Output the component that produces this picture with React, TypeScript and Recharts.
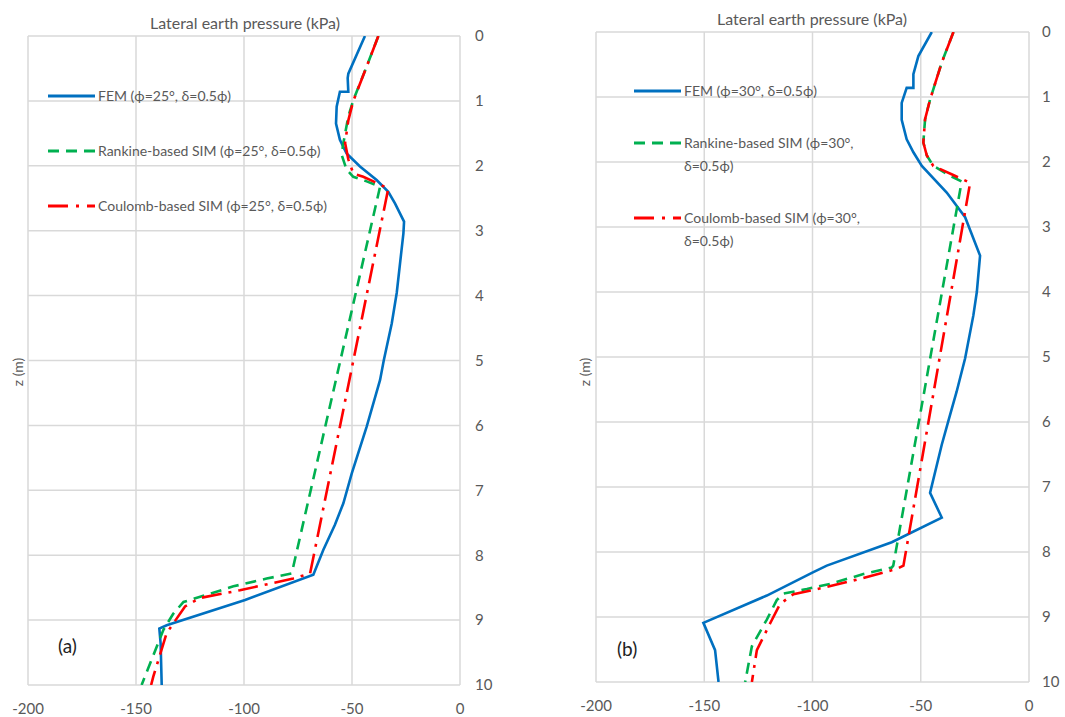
import React from 'react';
import { LineChart, Line, XAxis, YAxis, CartesianGrid, Legend } from 'recharts';

const FONT = 'Lato, "Noto Sans", sans-serif';
const TEXT = '#595959';
const GRID = '#d9d9d9';
const BLUE = '#0070c0';
const GREEN = '#00b050';
const RED = '#ff0000';

const P_TICKS = [-200, -150, -100, -50, 0];
const Z_TICKS = [0, 1, 2, 3, 4, 5, 6, 7, 8, 9, 10];

// panel (a), phi = 25
const FEM_A_Z = [0, 0.58, 0.65, 0.86, 0.86, 1.09, 1.35, 1.6, 1.81, 2.01, 2.22, 2.4, 2.58, 2.86, 3.04, 3.96, 4.43, 5.0, 5.3, 6.02, 6.74, 7.2, 7.53, 7.92, 8.3, 8.69, 9.08, 9.13, 9.36, 10];
const FEM_A_P = [-44, -51.7, -52, -51.7, -55.6, -57.1, -57.4, -55.6, -52.5, -46.3, -38.6, -33.2, -30.1, -25.9, -26.2, -29.3, -31.6, -35.3, -37, -43.2, -50.1, -54, -57.9, -63.3, -67.9, -99.5, -135.8, -139.2, -138.6, -138.1];
const RANK_A_Z = [0, 0.47, 0.99, 1.24, 1.65, 1.83, 2.06, 2.17, 2.24, 2.32, 8.28, 8.36, 8.48, 8.69, 8.72, 8.9, 9.15, 10];
const RANK_A_P = [-37.8, -43.2, -49.4, -51.7, -54, -54.8, -52.5, -49.4, -43.2, -37, -77.9, -89.5, -104.9, -125, -128, -132.7, -137.3, -147.4];
const COUL_A_Z = [0, 0.47, 1.0, 1.3, 1.65, 1.9, 2.12, 2.17, 2.24, 2.35, 8.28, 8.36, 8.54, 8.66, 8.79, 9.05, 9.2, 9.87, 10];
const COUL_A_P = [-37.8, -43.2, -49.4, -51.7, -53.2, -51.7, -49.4, -44.8, -40.1, -33.2, -69.4, -77.2, -101.9, -120.4, -127.3, -132.7, -135.8, -142, -143];

// panel (b), phi = 30
const FEM_B_Z = [0, 0.37, 0.65, 0.86, 0.86, 1.09, 1.35, 1.65, 1.85, 2.06, 2.47, 2.85, 3.44, 4.0, 4.36, 5.02, 5.53, 5.99, 6.35, 7.09, 7.47, 7.85, 8.21, 8.31, 8.67, 9.09, 9.51, 10];
const FEM_B_P = [-44.9, -51.1, -53.4, -53.4, -56.5, -58.8, -58.8, -56.5, -53.4, -49.5, -38, -29.5, -22.6, -24.1, -25.7, -29.5, -33.4, -37.3, -40.3, -45.7, -40.3, -63.4, -93.4, -99.6, -121.1, -150.4, -145, -143.4];
const RANK_B_Z = [0, 0.47, 1.04, 1.34, 1.7, 1.9, 2.06, 2.21, 2.3, 8.21, 8.24, 8.34, 8.49, 8.57, 8.64, 8.74, 9.04, 9.45, 10];
const RANK_B_P = [-34.9, -40.3, -45.7, -48, -48.8, -47.2, -44.2, -36.5, -31.1, -62.7, -63.4, -76.5, -91.9, -102.6, -113.4, -116.5, -121.1, -128, -131.1];
const COUL_B_Z = [0, 0.47, 1.04, 1.34, 1.7, 1.9, 2.06, 2.2, 2.32, 8.21, 8.26, 8.4, 8.55, 8.65, 8.8, 9.1, 9.51, 10];
const COUL_B_P = [-34.9, -40.3, -45.7, -48, -48.8, -47.2, -44.2, -35, -27.2, -58, -61.1, -76.5, -95, -108.8, -115, -119.6, -125.7, -128];

interface Pt { z: number; p: number }
interface SeriesDef { name: string; color: string; dash?: string; legendDash?: string; data: Pt[] }

const toPoints = (z: number[], p: number[]): Pt[] => z.map((d, i) => ({ z: d, p: p[i] }));

const makeSeries = (phi: number, fem: Pt[], rank: Pt[], coul: Pt[]): SeriesDef[] => [
  { name: `FEM (\u03d5=${phi}\u00b0, \u03b4=0.5\u03d5)`, color: BLUE, data: fem },
  { name: `Rankine-based SIM (\u03d5=${phi}\u00b0, \u03b4=0.5\u03d5)`, color: GREEN, dash: '11 7', legendDash: '11 7', data: rank },
  { name: `Coulomb-based SIM (\u03d5=${phi}\u00b0, \u03b4=0.5\u03d5)`, color: RED, dash: '20 7 3 7', legendDash: '20 8 3 8', data: coul },
];

const SERIES_A = makeSeries(25, toPoints(FEM_A_Z, FEM_A_P), toPoints(RANK_A_Z, RANK_A_P), toPoints(COUL_A_Z, COUL_A_P));
const SERIES_B = makeSeries(30, toPoints(FEM_B_Z, FEM_B_P), toPoints(RANK_B_Z, RANK_B_P), toPoints(COUL_B_Z, COUL_B_P));

const TICK_STYLE = { fontSize: 15, fill: TEXT, fontFamily: FONT };

interface PanelProps {
  series: SeriesDef[];
  left: number;
  width: number;
  margin: { top: number; right: number; bottom: number; left: number };
  yTickMargin: number;
  legendLeft: number;
  legendTop: number;
  legendGap: number;
  textWidth: number;
}

function Panel({ series, left, width, margin, yTickMargin, legendLeft, legendTop, legendGap, textWidth }: PanelProps) {
  const renderLegend = () => (
    <div style={{ fontFamily: FONT, fontSize: 14, color: TEXT, lineHeight: '23px' }}>
      {series.map((s, i) => (
        <div key={s.name} style={{ display: 'flex', alignItems: 'flex-start', marginTop: i === 0 ? 0 : legendGap }}>
          <svg width={47} height={23} style={{ flex: 'none', marginRight: 3 }}>
            <line x1={0} x2={47} y1={12} y2={12} stroke={s.color} strokeWidth={3} strokeDasharray={s.legendDash} />
          </svg>
          <span style={{ width: textWidth }}>{s.name}</span>
        </div>
      ))}
    </div>
  );

  return (
    <div style={{ position: 'absolute', left, top: 0 }}>
      <LineChart width={width} height={717} margin={margin}>
        <CartesianGrid stroke={GRID} strokeWidth={1.5} />
        <XAxis
          type="number"
          dataKey="p"
          domain={[-200, 0]}
          ticks={P_TICKS}
          allowDataOverflow
          axisLine={false}
          tickLine={false}
          tickMargin={12}
          height={30}
          tick={TICK_STYLE}
        />
        <YAxis
          type="number"
          dataKey="z"
          orientation="right"
          reversed
          domain={[0, 10]}
          ticks={Z_TICKS}
          allowDataOverflow
          axisLine={false}
          tickLine={false}
          tickMargin={yTickMargin}
          width={30}
          tick={TICK_STYLE}
        />
        <Legend
          layout="vertical"
          align="center"
          verticalAlign="middle"
          content={renderLegend}
          wrapperStyle={{ left: legendLeft, top: legendTop, width: 'auto' }}
        />
        {series.map(s => (
          <Line
            key={s.name}
            name={s.name}
            data={s.data}
            dataKey="z"
            type="linear"
            stroke={s.color}
            strokeWidth={2.6}
            strokeDasharray={s.dash}
            dot={false}
            activeDot={false}
            isAnimationActive={false}
          />
        ))}
      </LineChart>
    </div>
  );
}

const overlayText: React.CSSProperties = { position: 'absolute', fontFamily: FONT, fontSize: 16, color: TEXT, whiteSpace: 'nowrap' };

export default function App() {
  return (
    <div style={{ position: 'absolute', left: 0, top: 0, width: 1065, height: 717, background: '#fff', overflow: 'hidden' }}>
      <Panel
        series={SERIES_A}
        left={0}
        width={530}
        margin={{ top: 36, right: 40, bottom: 2, left: 28 }}
        yTickMargin={9}
        legendLeft={48}
        legendTop={84}
        legendGap={32}
        textWidth={280}
      />
      <Panel
        series={SERIES_B}
        left={530}
        width={535}
        margin={{ top: 32, right: 6, bottom: 5, left: 66 }}
        yTickMargin={7}
        legendLeft={104}
        legendTop={79}
        legendGap={29}
        textWidth={196}
      />
      <div style={{ ...overlayText, left: 245, top: 22, transform: 'translate(-50%, -50%)' }}>Lateral earth pressure (kPa)</div>
      <div style={{ ...overlayText, left: 812, top: 18, transform: 'translate(-50%, -50%)' }}>Lateral earth pressure (kPa)</div>
      <div style={{ ...overlayText, fontSize: 14, left: 17, top: 372, transform: 'translate(-50%, -50%) rotate(-90deg)' }}>z (m)</div>
      <div style={{ ...overlayText, fontSize: 14, left: 584, top: 372, transform: 'translate(-50%, -50%) rotate(-90deg)' }}>z (m)</div>
      <div style={{ ...overlayText, left: 58, top: 634, fontSize: 19, color: '#222' }}>(a)</div>
      <div style={{ ...overlayText, left: 617, top: 637, fontSize: 19, color: '#222' }}>(b)</div>
    </div>
  );
}
